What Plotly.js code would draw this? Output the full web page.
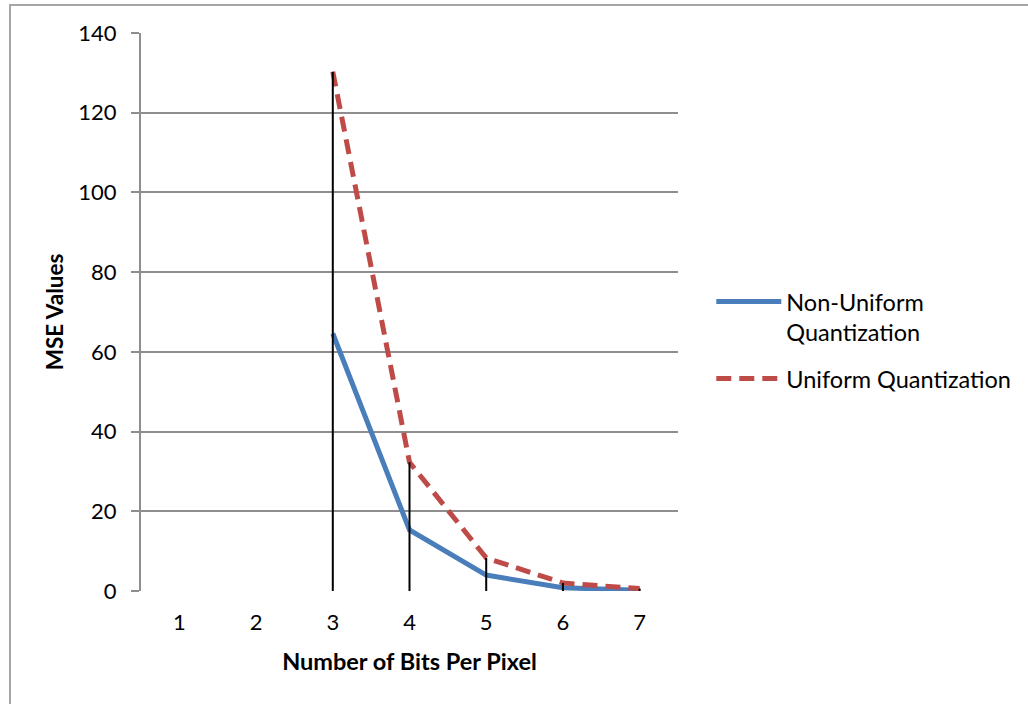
<!DOCTYPE html>
<html>
<head>
<meta charset="utf-8">
<script src="https://cdn.plot.ly/plotly-3.0.1.min.js"></script>
<style>
  html, body { margin: 0; padding: 0; background: #fff; overflow: hidden; }
  #frame { position: absolute; left: 9px; top: 4px; width: 1100px; height: 800px; border: 2px solid #a6a6a6; box-sizing: border-box; }
  #chart { position: absolute; left: 0; top: 0; width: 1028px; height: 704px; }
</style>
</head>
<body>
<div id="frame"></div>
<div id="chart"></div>
<script>
const categories = [1, 2, 3, 4, 5, 6, 7];
const nonUniform = [null, null, 64.6, 15.3, 4.0, 0.8, 0.2];
const uniform = [null, null, 130.3, 32.3, 8.3, 2.0, 0.6];
const yTicks = [0, 20, 40, 60, 80, 100, 120, 140];

// drop lines: from 0 to the highest series value at each category
const dropX = [], dropY = [];
categories.forEach((c, i) => {
  const vals = [nonUniform[i], uniform[i]].filter(v => v !== null);
  if (vals.length) {
    dropX.push(c, c, null);
    dropY.push(0, Math.max(...vals), null);
  }
});

const font = "Lato, Calibri, 'Open Sans', sans-serif";

const traces = [
  {
    x: categories, y: nonUniform, type: 'scatter', mode: 'lines',
    name: 'Non-Uniform<br>Quantization', legendgroup: 'a',
    line: { color: '#4a7ebb', width: 5 }
  },
  {
    x: categories, y: uniform, type: 'scatter', mode: 'lines',
    name: 'Uniform Quantization', legendgroup: 'b',
    line: { color: '#be4b48', width: 5, dash: '15px,8px' }
  },
  {
    x: dropX, y: dropY, type: 'scatter', mode: 'lines',
    showlegend: false, hoverinfo: 'skip',
    line: { color: '#000000', width: 2 }
  }
];

const layout = {
  width: 1028, height: 704,
  paper_bgcolor: 'rgba(0,0,0,0)', plot_bgcolor: 'rgba(0,0,0,0)',
  margin: { l: 141, r: 347, t: 33, b: 113 },
  font: { family: font, size: 22, color: '#000' },
  showlegend: true,
  legend: {
    x: 1.062, y: 0.558, xanchor: 'left', yanchor: 'top', valign: 'top',
    font: { family: font, size: 23.5, color: '#000' },
    bgcolor: 'rgba(0,0,0,0)', tracegroupgap: 13, itemwidth: 65
  },
  xaxis: {
    range: [0.5, 7.5], tickvals: categories, ticktext: categories.map(String),
    showgrid: false, zeroline: false, showline: false,
    ticks: '', ticklabelstandoff: 16,
    tickfont: { family: font, size: 22 },
    title: { text: '<b>Number of Bits Per Pixel</b>', font: { family: font, size: 23.5 }, standoff: 19 }
  },
  yaxis: {
    range: [0, 140], tickvals: yTicks,
    showgrid: true, gridcolor: '#8e8e8e', gridwidth: 2,
    zeroline: false, showline: true, linecolor: '#8e8e8e', linewidth: 2,
    ticks: 'outside', ticklen: 8, tickcolor: '#8e8e8e', tickwidth: 2,
    ticklabelstandoff: 10,
    tickfont: { family: font, size: 22 },
    title: { text: '<b>MSE Values</b>', font: { family: font, size: 22.5 }, standoff: 8 }
  }
};

Plotly.newPlot('chart', traces, layout, { displayModeBar: false, staticPlot: true });
</script>
</body>
</html>
